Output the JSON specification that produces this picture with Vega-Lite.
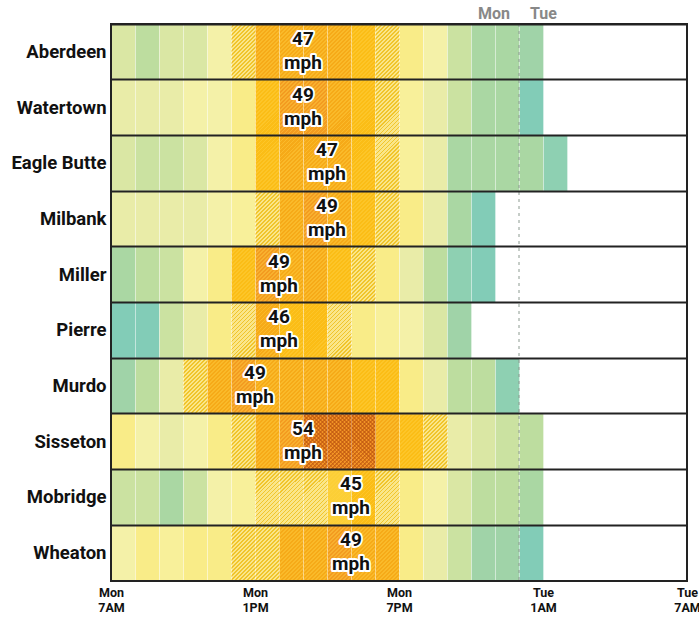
{
"$schema":"https://vega.github.io/schema/vega-lite/v6.json",
"width":576,"height":557,"autosize":"none",
"padding":{"left":111,"top":24,"right":12,"bottom":37},
"background":"white",
"config":{"view":{"stroke":null},"font":"Roboto"},
"datasets":{
"cells":[
{"city":"Aberdeen","h":[0,1,2,3,4,5,6,7,8,9,10,11,12,13,14,15,16,17],"g":[28,24,27,28,32,38,46,47,46,46,45,38,36,31,26,22,22,20]},
{"city":"Watertown","h":[0,1,2,3,4,5,6,7,8,9,10,11,12,13,14,15,16,17],"g":[30,30,30,31,32,36,44,49,48,46,44,38,34,30,26,22,22,15]},
{"city":"Eagle Butte","h":[0,1,2,3,4,5,6,7,8,9,10,11,12,13,14,15,16,17,18],"g":[27,25,26,28,32,36,44,46,47,46,44,38,34,29,22,22,22,22,18]},
{"city":"Milbank","h":[0,1,2,3,4,5,6,7,8,9,10,11,12,13,14,15],"g":[30,30,30,30,32,34,38,47,49,47,45,38,35,30,22,16]},
{"city":"Miller","h":[0,1,2,3,4,5,6,7,8,9,10,11,12,13,14,15],"g":[21,24,26,32,35,44,49,47,46,45,38,35,30,24,18,16]},
{"city":"Pierre","h":[0,1,2,3,4,5,6,7,8,9,10,11,12,13,14],"g":[15,15,26,30,35,38,46,44,44,38,35,33,32,28,20]},
{"city":"Murdo","h":[0,1,2,3,4,5,6,7,8,9,10,11,12,13,14,15,16],"g":[20,24,29,38,46,49,47,46,46,46,45,44,35,30,24,23,18]},
{"city":"Sisseton","h":[0,1,2,3,4,5,6,7,8,9,10,11,12,13,14,15,16,17],"g":[35,31,30,32,35,38,46,48,52,54,53,47,44,38,30,27,26,24]},
{"city":"Mobridge","h":[0,1,2,3,4,5,6,7,8,9,10,11,12,13,14,15,16,17],"g":[25,25,22,25,32,34,38,38,39,41,45,38,36,32,27,24,24,22]},
{"city":"Wheaton","h":[0,1,2,3,4,5,6,7,8,9,10,11,12,13,14,15,16,17],"g":[32,36,34,36,36,38,38,46,47,49,47,46,36,30,26,20,20,15]}
],
"peaks":[
{"city":"Aberdeen","px":8,"lbl":"47\nmph"},
{"city":"Watertown","px":8,"lbl":"49\nmph"},
{"city":"Eagle Butte","px":9,"lbl":"47\nmph"},
{"city":"Milbank","px":9,"lbl":"49\nmph"},
{"city":"Miller","px":7,"lbl":"49\nmph"},
{"city":"Pierre","px":7,"lbl":"46\nmph"},
{"city":"Murdo","px":6,"lbl":"49\nmph"},
{"city":"Sisseton","px":8,"lbl":"54\nmph"},
{"city":"Mobridge","px":10,"lbl":"45\nmph"},
{"city":"Wheaton","px":10,"lbl":"49\nmph"}
]},
"layer":[
{"data":{"name":"cells"},"transform":[{"flatten":["h","g"]}],
"mark":{"type":"rect","stroke":"#ffffff","strokeOpacity":0.3,"strokeWidth":1},
"encoding":{
"x":{"field":"h","type":"quantitative","bin":{"binned":true,"step":1},"scale":{"domain":[0,24],"nice":false,"zero":false},
"axis":{"title":null,"values":[0,6,12,18,24],"labelExpr":"split(['Mon|7AM','Mon|1PM','Mon|7PM','Tue|1AM','Tue|7AM'][round(datum.value/6)],'|')","labelFontSize":12.5,"labelFontWeight":"bold","labelColor":"#111","ticks":false,"domain":false,"grid":false,"labelPadding":5,"labelFlush":false,"labelOverlap":false,"labelBound":false,"labelLineHeight":15}},
"y":{"field":"city","type":"nominal","scale":{"domain":["Aberdeen","Watertown","Eagle Butte","Milbank","Miller","Pierre","Murdo","Sisseton","Mobridge","Wheaton"],"paddingInner":0,"paddingOuter":0},
"axis":{"title":null,"labelFontSize":18.5,"labelFontWeight":"bold","labelColor":"#111","ticks":false,"domain":false,"labelPadding":5,"grid":true,"gridColor":"#222","gridWidth":2,"bandPosition":0,"zindex":1,"labelLimit":200}},
"color":{"field":"g","type":"quantitative","legend":null,"scale":{"type":"threshold","domain":[17,19,21,23,25,27,29,31,33,35,37,40,42,46,48,50],
"range":["#82ccb7","#8ed0b2","#a0d3a8","#aad7a3","#bddd9f","#cbe2a1","#dae7a4","#e9eca8","#f4f1a8","#f8f09a","#f9ec88","#fae68a","#fccf36","#fbbd16","#f6aa18","#f39b20","#f29426"]}}}},
{"data":{"name":"cells"},"transform":[{"flatten":["h","g"]},{"filter":"datum.g>=37 && datum.g<40"}],
"mark":{"type":"rect","fill":{"gradient":"linear","x1":0,"y1":0,"x2":0.52,"y2":1.207,"stops":[
{"offset":0,"color":"rgba(238,188,20,0)"},{"offset":0.0275,"color":"rgba(238,188,20,0)"},{"offset":0.0275,"color":"rgba(238,188,20,0.8)"},{"offset":0.05,"color":"rgba(238,188,20,0.8)"},
{"offset":0.05,"color":"rgba(238,188,20,0)"},{"offset":0.0775,"color":"rgba(238,188,20,0)"},{"offset":0.0775,"color":"rgba(238,188,20,0.8)"},{"offset":0.1,"color":"rgba(238,188,20,0.8)"},
{"offset":0.1,"color":"rgba(238,188,20,0)"},{"offset":0.1275,"color":"rgba(238,188,20,0)"},{"offset":0.1275,"color":"rgba(238,188,20,0.8)"},{"offset":0.15,"color":"rgba(238,188,20,0.8)"},
{"offset":0.15,"color":"rgba(238,188,20,0)"},{"offset":0.1775,"color":"rgba(238,188,20,0)"},{"offset":0.1775,"color":"rgba(238,188,20,0.8)"},{"offset":0.2,"color":"rgba(238,188,20,0.8)"},
{"offset":0.2,"color":"rgba(238,188,20,0)"},{"offset":0.2275,"color":"rgba(238,188,20,0)"},{"offset":0.2275,"color":"rgba(238,188,20,0.8)"},{"offset":0.25,"color":"rgba(238,188,20,0.8)"},
{"offset":0.25,"color":"rgba(238,188,20,0)"},{"offset":0.2775,"color":"rgba(238,188,20,0)"},{"offset":0.2775,"color":"rgba(238,188,20,0.8)"},{"offset":0.3,"color":"rgba(238,188,20,0.8)"},
{"offset":0.3,"color":"rgba(238,188,20,0)"},{"offset":0.3275,"color":"rgba(238,188,20,0)"},{"offset":0.3275,"color":"rgba(238,188,20,0.8)"},{"offset":0.35,"color":"rgba(238,188,20,0.8)"},
{"offset":0.35,"color":"rgba(238,188,20,0)"},{"offset":0.3775,"color":"rgba(238,188,20,0)"},{"offset":0.3775,"color":"rgba(238,188,20,0.8)"},{"offset":0.4,"color":"rgba(238,188,20,0.8)"},
{"offset":0.4,"color":"rgba(238,188,20,0)"},{"offset":0.4275,"color":"rgba(238,188,20,0)"},{"offset":0.4275,"color":"rgba(238,188,20,0.8)"},{"offset":0.45,"color":"rgba(238,188,20,0.8)"},
{"offset":0.45,"color":"rgba(238,188,20,0)"},{"offset":0.4775,"color":"rgba(238,188,20,0)"},{"offset":0.4775,"color":"rgba(238,188,20,0.8)"},{"offset":0.5,"color":"rgba(238,188,20,0.8)"},
{"offset":0.5,"color":"rgba(238,188,20,0)"},{"offset":0.5275,"color":"rgba(238,188,20,0)"},{"offset":0.5275,"color":"rgba(238,188,20,0.8)"},{"offset":0.55,"color":"rgba(238,188,20,0.8)"},
{"offset":0.55,"color":"rgba(238,188,20,0)"},{"offset":0.5775,"color":"rgba(238,188,20,0)"},{"offset":0.5775,"color":"rgba(238,188,20,0.8)"},{"offset":0.6,"color":"rgba(238,188,20,0.8)"},
{"offset":0.6,"color":"rgba(238,188,20,0)"},{"offset":0.6275,"color":"rgba(238,188,20,0)"},{"offset":0.6275,"color":"rgba(238,188,20,0.8)"},{"offset":0.65,"color":"rgba(238,188,20,0.8)"},
{"offset":0.65,"color":"rgba(238,188,20,0)"},{"offset":0.6775,"color":"rgba(238,188,20,0)"},{"offset":0.6775,"color":"rgba(238,188,20,0.8)"},{"offset":0.7,"color":"rgba(238,188,20,0.8)"},
{"offset":0.7,"color":"rgba(238,188,20,0)"},{"offset":0.7275,"color":"rgba(238,188,20,0)"},{"offset":0.7275,"color":"rgba(238,188,20,0.8)"},{"offset":0.75,"color":"rgba(238,188,20,0.8)"},
{"offset":0.75,"color":"rgba(238,188,20,0)"},{"offset":0.7775,"color":"rgba(238,188,20,0)"},{"offset":0.7775,"color":"rgba(238,188,20,0.8)"},{"offset":0.8,"color":"rgba(238,188,20,0.8)"},
{"offset":0.8,"color":"rgba(238,188,20,0)"},{"offset":0.8275,"color":"rgba(238,188,20,0)"},{"offset":0.8275,"color":"rgba(238,188,20,0.8)"},{"offset":0.85,"color":"rgba(238,188,20,0.8)"},
{"offset":0.85,"color":"rgba(238,188,20,0)"},{"offset":0.8775,"color":"rgba(238,188,20,0)"},{"offset":0.8775,"color":"rgba(238,188,20,0.8)"},{"offset":0.9,"color":"rgba(238,188,20,0.8)"},
{"offset":0.9,"color":"rgba(238,188,20,0)"},{"offset":0.9275,"color":"rgba(238,188,20,0)"},{"offset":0.9275,"color":"rgba(238,188,20,0.8)"},{"offset":0.95,"color":"rgba(238,188,20,0.8)"},
{"offset":0.95,"color":"rgba(238,188,20,0)"},{"offset":0.9775,"color":"rgba(238,188,20,0)"},{"offset":0.9775,"color":"rgba(238,188,20,0.8)"},{"offset":1,"color":"rgba(238,188,20,0.8)"}
]}},
"encoding":{"x":{"field":"h","type":"quantitative","bin":{"binned":true,"step":1}},
"y":{"field":"city","type":"nominal","scale":{"domain":["Aberdeen","Watertown","Eagle Butte","Milbank","Miller","Pierre","Murdo","Sisseton","Mobridge","Wheaton"],"paddingInner":0,"paddingOuter":0}}}},
{"data":{"name":"cells"},"transform":[{"flatten":["h","g"]},{"filter":"datum.g>=40 && datum.g<50"}],
"mark":{"type":"rect","fill":{"gradient":"linear","x1":0,"y1":0,"x2":0.52,"y2":1.207,"stops":[
{"offset":0,"color":"rgba(255,210,70,0)"},{"offset":0.0275,"color":"rgba(255,210,70,0)"},{"offset":0.0275,"color":"rgba(255,210,70,0.4)"},{"offset":0.05,"color":"rgba(255,210,70,0.4)"},
{"offset":0.05,"color":"rgba(255,210,70,0)"},{"offset":0.0775,"color":"rgba(255,210,70,0)"},{"offset":0.0775,"color":"rgba(255,210,70,0.4)"},{"offset":0.1,"color":"rgba(255,210,70,0.4)"},
{"offset":0.1,"color":"rgba(255,210,70,0)"},{"offset":0.1275,"color":"rgba(255,210,70,0)"},{"offset":0.1275,"color":"rgba(255,210,70,0.4)"},{"offset":0.15,"color":"rgba(255,210,70,0.4)"},
{"offset":0.15,"color":"rgba(255,210,70,0)"},{"offset":0.1775,"color":"rgba(255,210,70,0)"},{"offset":0.1775,"color":"rgba(255,210,70,0.4)"},{"offset":0.2,"color":"rgba(255,210,70,0.4)"},
{"offset":0.2,"color":"rgba(255,210,70,0)"},{"offset":0.2275,"color":"rgba(255,210,70,0)"},{"offset":0.2275,"color":"rgba(255,210,70,0.4)"},{"offset":0.25,"color":"rgba(255,210,70,0.4)"},
{"offset":0.25,"color":"rgba(255,210,70,0)"},{"offset":0.2775,"color":"rgba(255,210,70,0)"},{"offset":0.2775,"color":"rgba(255,210,70,0.4)"},{"offset":0.3,"color":"rgba(255,210,70,0.4)"},
{"offset":0.3,"color":"rgba(255,210,70,0)"},{"offset":0.3275,"color":"rgba(255,210,70,0)"},{"offset":0.3275,"color":"rgba(255,210,70,0.4)"},{"offset":0.35,"color":"rgba(255,210,70,0.4)"},
{"offset":0.35,"color":"rgba(255,210,70,0)"},{"offset":0.3775,"color":"rgba(255,210,70,0)"},{"offset":0.3775,"color":"rgba(255,210,70,0.4)"},{"offset":0.4,"color":"rgba(255,210,70,0.4)"},
{"offset":0.4,"color":"rgba(255,210,70,0)"},{"offset":0.4275,"color":"rgba(255,210,70,0)"},{"offset":0.4275,"color":"rgba(255,210,70,0.4)"},{"offset":0.45,"color":"rgba(255,210,70,0.4)"},
{"offset":0.45,"color":"rgba(255,210,70,0)"},{"offset":0.4775,"color":"rgba(255,210,70,0)"},{"offset":0.4775,"color":"rgba(255,210,70,0.4)"},{"offset":0.5,"color":"rgba(255,210,70,0.4)"},
{"offset":0.5,"color":"rgba(255,210,70,0)"},{"offset":0.5275,"color":"rgba(255,210,70,0)"},{"offset":0.5275,"color":"rgba(255,210,70,0.4)"},{"offset":0.55,"color":"rgba(255,210,70,0.4)"},
{"offset":0.55,"color":"rgba(255,210,70,0)"},{"offset":0.5775,"color":"rgba(255,210,70,0)"},{"offset":0.5775,"color":"rgba(255,210,70,0.4)"},{"offset":0.6,"color":"rgba(255,210,70,0.4)"},
{"offset":0.6,"color":"rgba(255,210,70,0)"},{"offset":0.6275,"color":"rgba(255,210,70,0)"},{"offset":0.6275,"color":"rgba(255,210,70,0.4)"},{"offset":0.65,"color":"rgba(255,210,70,0.4)"},
{"offset":0.65,"color":"rgba(255,210,70,0)"},{"offset":0.6775,"color":"rgba(255,210,70,0)"},{"offset":0.6775,"color":"rgba(255,210,70,0.4)"},{"offset":0.7,"color":"rgba(255,210,70,0.4)"},
{"offset":0.7,"color":"rgba(255,210,70,0)"},{"offset":0.7275,"color":"rgba(255,210,70,0)"},{"offset":0.7275,"color":"rgba(255,210,70,0.4)"},{"offset":0.75,"color":"rgba(255,210,70,0.4)"},
{"offset":0.75,"color":"rgba(255,210,70,0)"},{"offset":0.7775,"color":"rgba(255,210,70,0)"},{"offset":0.7775,"color":"rgba(255,210,70,0.4)"},{"offset":0.8,"color":"rgba(255,210,70,0.4)"},
{"offset":0.8,"color":"rgba(255,210,70,0)"},{"offset":0.8275,"color":"rgba(255,210,70,0)"},{"offset":0.8275,"color":"rgba(255,210,70,0.4)"},{"offset":0.85,"color":"rgba(255,210,70,0.4)"},
{"offset":0.85,"color":"rgba(255,210,70,0)"},{"offset":0.8775,"color":"rgba(255,210,70,0)"},{"offset":0.8775,"color":"rgba(255,210,70,0.4)"},{"offset":0.9,"color":"rgba(255,210,70,0.4)"},
{"offset":0.9,"color":"rgba(255,210,70,0)"},{"offset":0.9275,"color":"rgba(255,210,70,0)"},{"offset":0.9275,"color":"rgba(255,210,70,0.4)"},{"offset":0.95,"color":"rgba(255,210,70,0.4)"},
{"offset":0.95,"color":"rgba(255,210,70,0)"},{"offset":0.9775,"color":"rgba(255,210,70,0)"},{"offset":0.9775,"color":"rgba(255,210,70,0.4)"},{"offset":1,"color":"rgba(255,210,70,0.4)"}
]}},
"encoding":{"x":{"field":"h","type":"quantitative","bin":{"binned":true,"step":1}},
"y":{"field":"city","type":"nominal","scale":{"domain":["Aberdeen","Watertown","Eagle Butte","Milbank","Miller","Pierre","Murdo","Sisseton","Mobridge","Wheaton"],"paddingInner":0,"paddingOuter":0}}}},
{"data":{"name":"cells"},"transform":[{"flatten":["h","g"]},{"filter":"datum.g>=50"}],
"mark":{"type":"rect","fill":{"gradient":"linear","x1":0,"y1":0,"x2":0.52,"y2":1.207,"stops":[
{"offset":0,"color":"rgba(190,85,15,0)"},{"offset":0.0275,"color":"rgba(190,85,15,0)"},{"offset":0.0275,"color":"rgba(190,85,15,0.6)"},{"offset":0.05,"color":"rgba(190,85,15,0.6)"},
{"offset":0.05,"color":"rgba(190,85,15,0)"},{"offset":0.0775,"color":"rgba(190,85,15,0)"},{"offset":0.0775,"color":"rgba(190,85,15,0.6)"},{"offset":0.1,"color":"rgba(190,85,15,0.6)"},
{"offset":0.1,"color":"rgba(190,85,15,0)"},{"offset":0.1275,"color":"rgba(190,85,15,0)"},{"offset":0.1275,"color":"rgba(190,85,15,0.6)"},{"offset":0.15,"color":"rgba(190,85,15,0.6)"},
{"offset":0.15,"color":"rgba(190,85,15,0)"},{"offset":0.1775,"color":"rgba(190,85,15,0)"},{"offset":0.1775,"color":"rgba(190,85,15,0.6)"},{"offset":0.2,"color":"rgba(190,85,15,0.6)"},
{"offset":0.2,"color":"rgba(190,85,15,0)"},{"offset":0.2275,"color":"rgba(190,85,15,0)"},{"offset":0.2275,"color":"rgba(190,85,15,0.6)"},{"offset":0.25,"color":"rgba(190,85,15,0.6)"},
{"offset":0.25,"color":"rgba(190,85,15,0)"},{"offset":0.2775,"color":"rgba(190,85,15,0)"},{"offset":0.2775,"color":"rgba(190,85,15,0.6)"},{"offset":0.3,"color":"rgba(190,85,15,0.6)"},
{"offset":0.3,"color":"rgba(190,85,15,0)"},{"offset":0.3275,"color":"rgba(190,85,15,0)"},{"offset":0.3275,"color":"rgba(190,85,15,0.6)"},{"offset":0.35,"color":"rgba(190,85,15,0.6)"},
{"offset":0.35,"color":"rgba(190,85,15,0)"},{"offset":0.3775,"color":"rgba(190,85,15,0)"},{"offset":0.3775,"color":"rgba(190,85,15,0.6)"},{"offset":0.4,"color":"rgba(190,85,15,0.6)"},
{"offset":0.4,"color":"rgba(190,85,15,0)"},{"offset":0.4275,"color":"rgba(190,85,15,0)"},{"offset":0.4275,"color":"rgba(190,85,15,0.6)"},{"offset":0.45,"color":"rgba(190,85,15,0.6)"},
{"offset":0.45,"color":"rgba(190,85,15,0)"},{"offset":0.4775,"color":"rgba(190,85,15,0)"},{"offset":0.4775,"color":"rgba(190,85,15,0.6)"},{"offset":0.5,"color":"rgba(190,85,15,0.6)"},
{"offset":0.5,"color":"rgba(190,85,15,0)"},{"offset":0.5275,"color":"rgba(190,85,15,0)"},{"offset":0.5275,"color":"rgba(190,85,15,0.6)"},{"offset":0.55,"color":"rgba(190,85,15,0.6)"},
{"offset":0.55,"color":"rgba(190,85,15,0)"},{"offset":0.5775,"color":"rgba(190,85,15,0)"},{"offset":0.5775,"color":"rgba(190,85,15,0.6)"},{"offset":0.6,"color":"rgba(190,85,15,0.6)"},
{"offset":0.6,"color":"rgba(190,85,15,0)"},{"offset":0.6275,"color":"rgba(190,85,15,0)"},{"offset":0.6275,"color":"rgba(190,85,15,0.6)"},{"offset":0.65,"color":"rgba(190,85,15,0.6)"},
{"offset":0.65,"color":"rgba(190,85,15,0)"},{"offset":0.6775,"color":"rgba(190,85,15,0)"},{"offset":0.6775,"color":"rgba(190,85,15,0.6)"},{"offset":0.7,"color":"rgba(190,85,15,0.6)"},
{"offset":0.7,"color":"rgba(190,85,15,0)"},{"offset":0.7275,"color":"rgba(190,85,15,0)"},{"offset":0.7275,"color":"rgba(190,85,15,0.6)"},{"offset":0.75,"color":"rgba(190,85,15,0.6)"},
{"offset":0.75,"color":"rgba(190,85,15,0)"},{"offset":0.7775,"color":"rgba(190,85,15,0)"},{"offset":0.7775,"color":"rgba(190,85,15,0.6)"},{"offset":0.8,"color":"rgba(190,85,15,0.6)"},
{"offset":0.8,"color":"rgba(190,85,15,0)"},{"offset":0.8275,"color":"rgba(190,85,15,0)"},{"offset":0.8275,"color":"rgba(190,85,15,0.6)"},{"offset":0.85,"color":"rgba(190,85,15,0.6)"},
{"offset":0.85,"color":"rgba(190,85,15,0)"},{"offset":0.8775,"color":"rgba(190,85,15,0)"},{"offset":0.8775,"color":"rgba(190,85,15,0.6)"},{"offset":0.9,"color":"rgba(190,85,15,0.6)"},
{"offset":0.9,"color":"rgba(190,85,15,0)"},{"offset":0.9275,"color":"rgba(190,85,15,0)"},{"offset":0.9275,"color":"rgba(190,85,15,0.6)"},{"offset":0.95,"color":"rgba(190,85,15,0.6)"},
{"offset":0.95,"color":"rgba(190,85,15,0)"},{"offset":0.9775,"color":"rgba(190,85,15,0)"},{"offset":0.9775,"color":"rgba(190,85,15,0.6)"},{"offset":1,"color":"rgba(190,85,15,0.6)"}
]}},
"encoding":{"x":{"field":"h","type":"quantitative","bin":{"binned":true,"step":1}},
"y":{"field":"city","type":"nominal","scale":{"domain":["Aberdeen","Watertown","Eagle Butte","Milbank","Miller","Pierre","Murdo","Sisseton","Mobridge","Wheaton"],"paddingInner":0,"paddingOuter":0}}}},
{"data":{"name":"cells"},"transform":[{"flatten":["h","g"]},{"filter":"datum.g>=50"}],
"mark":{"type":"rect","fill":{"gradient":"linear","x1":0,"y1":1,"x2":0.52,"y2":-0.207,"stops":[
{"offset":0,"color":"rgba(190,85,15,0)"},{"offset":0.0275,"color":"rgba(190,85,15,0)"},{"offset":0.0275,"color":"rgba(190,85,15,0.6)"},{"offset":0.05,"color":"rgba(190,85,15,0.6)"},
{"offset":0.05,"color":"rgba(190,85,15,0)"},{"offset":0.0775,"color":"rgba(190,85,15,0)"},{"offset":0.0775,"color":"rgba(190,85,15,0.6)"},{"offset":0.1,"color":"rgba(190,85,15,0.6)"},
{"offset":0.1,"color":"rgba(190,85,15,0)"},{"offset":0.1275,"color":"rgba(190,85,15,0)"},{"offset":0.1275,"color":"rgba(190,85,15,0.6)"},{"offset":0.15,"color":"rgba(190,85,15,0.6)"},
{"offset":0.15,"color":"rgba(190,85,15,0)"},{"offset":0.1775,"color":"rgba(190,85,15,0)"},{"offset":0.1775,"color":"rgba(190,85,15,0.6)"},{"offset":0.2,"color":"rgba(190,85,15,0.6)"},
{"offset":0.2,"color":"rgba(190,85,15,0)"},{"offset":0.2275,"color":"rgba(190,85,15,0)"},{"offset":0.2275,"color":"rgba(190,85,15,0.6)"},{"offset":0.25,"color":"rgba(190,85,15,0.6)"},
{"offset":0.25,"color":"rgba(190,85,15,0)"},{"offset":0.2775,"color":"rgba(190,85,15,0)"},{"offset":0.2775,"color":"rgba(190,85,15,0.6)"},{"offset":0.3,"color":"rgba(190,85,15,0.6)"},
{"offset":0.3,"color":"rgba(190,85,15,0)"},{"offset":0.3275,"color":"rgba(190,85,15,0)"},{"offset":0.3275,"color":"rgba(190,85,15,0.6)"},{"offset":0.35,"color":"rgba(190,85,15,0.6)"},
{"offset":0.35,"color":"rgba(190,85,15,0)"},{"offset":0.3775,"color":"rgba(190,85,15,0)"},{"offset":0.3775,"color":"rgba(190,85,15,0.6)"},{"offset":0.4,"color":"rgba(190,85,15,0.6)"},
{"offset":0.4,"color":"rgba(190,85,15,0)"},{"offset":0.4275,"color":"rgba(190,85,15,0)"},{"offset":0.4275,"color":"rgba(190,85,15,0.6)"},{"offset":0.45,"color":"rgba(190,85,15,0.6)"},
{"offset":0.45,"color":"rgba(190,85,15,0)"},{"offset":0.4775,"color":"rgba(190,85,15,0)"},{"offset":0.4775,"color":"rgba(190,85,15,0.6)"},{"offset":0.5,"color":"rgba(190,85,15,0.6)"},
{"offset":0.5,"color":"rgba(190,85,15,0)"},{"offset":0.5275,"color":"rgba(190,85,15,0)"},{"offset":0.5275,"color":"rgba(190,85,15,0.6)"},{"offset":0.55,"color":"rgba(190,85,15,0.6)"},
{"offset":0.55,"color":"rgba(190,85,15,0)"},{"offset":0.5775,"color":"rgba(190,85,15,0)"},{"offset":0.5775,"color":"rgba(190,85,15,0.6)"},{"offset":0.6,"color":"rgba(190,85,15,0.6)"},
{"offset":0.6,"color":"rgba(190,85,15,0)"},{"offset":0.6275,"color":"rgba(190,85,15,0)"},{"offset":0.6275,"color":"rgba(190,85,15,0.6)"},{"offset":0.65,"color":"rgba(190,85,15,0.6)"},
{"offset":0.65,"color":"rgba(190,85,15,0)"},{"offset":0.6775,"color":"rgba(190,85,15,0)"},{"offset":0.6775,"color":"rgba(190,85,15,0.6)"},{"offset":0.7,"color":"rgba(190,85,15,0.6)"},
{"offset":0.7,"color":"rgba(190,85,15,0)"},{"offset":0.7275,"color":"rgba(190,85,15,0)"},{"offset":0.7275,"color":"rgba(190,85,15,0.6)"},{"offset":0.75,"color":"rgba(190,85,15,0.6)"},
{"offset":0.75,"color":"rgba(190,85,15,0)"},{"offset":0.7775,"color":"rgba(190,85,15,0)"},{"offset":0.7775,"color":"rgba(190,85,15,0.6)"},{"offset":0.8,"color":"rgba(190,85,15,0.6)"},
{"offset":0.8,"color":"rgba(190,85,15,0)"},{"offset":0.8275,"color":"rgba(190,85,15,0)"},{"offset":0.8275,"color":"rgba(190,85,15,0.6)"},{"offset":0.85,"color":"rgba(190,85,15,0.6)"},
{"offset":0.85,"color":"rgba(190,85,15,0)"},{"offset":0.8775,"color":"rgba(190,85,15,0)"},{"offset":0.8775,"color":"rgba(190,85,15,0.6)"},{"offset":0.9,"color":"rgba(190,85,15,0.6)"},
{"offset":0.9,"color":"rgba(190,85,15,0)"},{"offset":0.9275,"color":"rgba(190,85,15,0)"},{"offset":0.9275,"color":"rgba(190,85,15,0.6)"},{"offset":0.95,"color":"rgba(190,85,15,0.6)"},
{"offset":0.95,"color":"rgba(190,85,15,0)"},{"offset":0.9775,"color":"rgba(190,85,15,0)"},{"offset":0.9775,"color":"rgba(190,85,15,0.6)"},{"offset":1,"color":"rgba(190,85,15,0.6)"}
]}},
"encoding":{"x":{"field":"h","type":"quantitative","bin":{"binned":true,"step":1}},
"y":{"field":"city","type":"nominal","scale":{"domain":["Aberdeen","Watertown","Eagle Butte","Milbank","Miller","Pierre","Murdo","Sisseton","Mobridge","Wheaton"],"paddingInner":0,"paddingOuter":0}}}},
{"data":{"values":[{}]},"mark":{"type":"rule","color":"#8c9a90","strokeWidth":1,"strokeDash":[3,4]},"encoding":{"x":{"datum":17}}},
{"data":{"values":[{}]},"mark":{"type":"rect","fillOpacity":0,"stroke":"#222","strokeWidth":2},"encoding":{"x":{"datum":0},"x2":{"datum":24}}},
{"data":{"values":[{}]},"mark":{"type":"text","text":"Mon","align":"right","baseline":"middle","dx":-9,"fontSize":16,"fontWeight":"bold","color":"#888"},"encoding":{"x":{"datum":17},"y":{"value":-10}}},
{"data":{"values":[{}]},"mark":{"type":"text","text":"Tue","align":"left","baseline":"middle","dx":11,"fontSize":16,"fontWeight":"bold","color":"#888"},"encoding":{"x":{"datum":17},"y":{"value":-10}}},
{"data":{"name":"peaks"},"mark":{"type":"text","lineBreak":"\n","lineHeight":24,"fontSize":19,"fontWeight":"bold","align":"center","baseline":"middle","dy":-13,"fill":"white","stroke":"white","strokeWidth":4,"strokeJoin":"round"},
"encoding":{"x":{"field":"px","type":"quantitative"},"y":{"field":"city","type":"nominal","scale":{"domain":["Aberdeen","Watertown","Eagle Butte","Milbank","Miller","Pierre","Murdo","Sisseton","Mobridge","Wheaton"],"paddingInner":0,"paddingOuter":0}},"text":{"field":"lbl"}}},
{"data":{"name":"peaks"},"mark":{"type":"text","lineBreak":"\n","lineHeight":24,"fontSize":19,"fontWeight":"bold","align":"center","baseline":"middle","dy":-13,"fill":"#111"},
"encoding":{"x":{"field":"px","type":"quantitative"},"y":{"field":"city","type":"nominal","scale":{"domain":["Aberdeen","Watertown","Eagle Butte","Milbank","Miller","Pierre","Murdo","Sisseton","Mobridge","Wheaton"],"paddingInner":0,"paddingOuter":0}},"text":{"field":"lbl"}}}
]
}
